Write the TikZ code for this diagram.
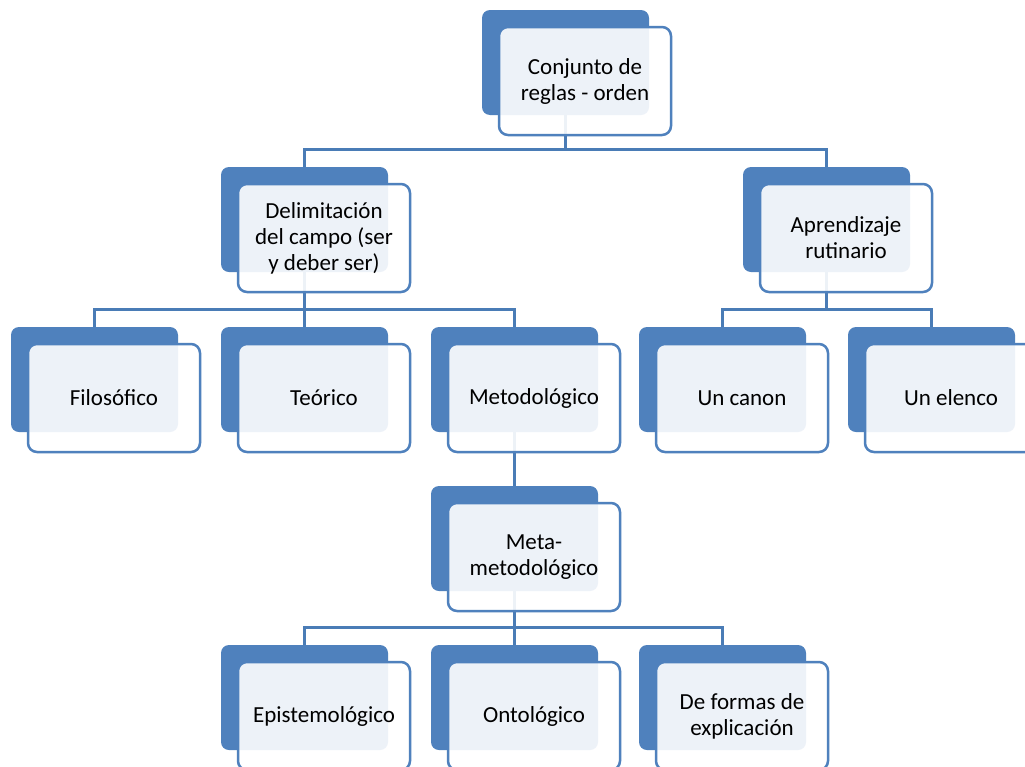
\documentclass[tikz,border=0pt]{standalone}
\usepackage{fontspec}
\setmainfont{Carlito}
\definecolor{boxblue}{HTML}{4F81BD}
\definecolor{connblue}{HTML}{4A7CB6}
\tikzset{
  backbox/.style={fill=boxblue, draw=none, rounded corners=8pt, anchor=north west,
    minimum width=167pt, minimum height=105pt, inner sep=0pt, outer sep=0pt},
  frontbox/.style={fill=white, fill opacity=0.9, text opacity=1, draw=boxblue, line width=2.5pt,
    rounded corners=9pt, anchor=north west, minimum width=172pt, minimum height=108pt,
    inner sep=0pt, outer sep=0pt, align=center,
    font=\fontsize{23pt}{26pt}\selectfont, text=black},
  conn/.style={draw=connblue, line width=3pt}
}
\newcommand{\backat}[3]{\node[backbox] (#1B) at (#2,#3) {};}
\newcommand{\frontat}[4]{\node[frontbox] (#1F) at (#2+17,#3+17) {#4};}
\begin{document}
\begin{tikzpicture}[x=1pt,y=-1pt]
\useasboundingbox (0,0) rectangle (1025,766);
\clip (0,0) rectangle (1025,766);
\fill[white] (0,0) rectangle (1025,766);
% back boxes
\backat{top}{482}{10}
\backat{del}{221}{167}
\backat{apr}{743}{167}
\backat{fil}{11}{327}
\backat{teo}{221}{327}
\backat{met}{431}{327}
\backat{can}{639}{327}
\backat{ele}{848}{327}
\backat{meta}{431}{486}
\backat{epi}{221}{645}
\backat{ont}{431}{645}
\backat{def}{639}{645}
% connectors
\coordinate (b0) at (565.5,149);
\coordinate (b1) at (304.5,309);
\coordinate (b2) at (826.5,309);
\coordinate (b3) at (514.5,627);
\draw[conn] (topB.south) -- (b0);
\draw[conn] (delB.north) |- (aprB.north |- b0) -- (aprB.north);
\draw[conn] (delB.south) -- (b1);
\draw[conn] (filB.north) |- (metB.north |- b1) -- (metB.north);
\draw[conn] (teoB.north) -- (teoB.north |- b1);
\draw[conn] (aprB.south) -- (b2);
\draw[conn] (canB.north) |- (eleB.north |- b2) -- (eleB.north);
\draw[conn] (metB.south) -- (metaB.north);
\draw[conn] (metaB.south) -- (b3);
\draw[conn] (epiB.north) |- (defB.north |- b3) -- (defB.north);
\draw[conn] (ontB.north) -- (ontB.north |- b3);
% front boxes
\frontat{top}{482}{10}{Conjunto de\\reglas - orden}
\frontat{del}{221}{167}{Delimitación\\del campo (ser\\y deber ser)}
\frontat{apr}{743}{167}{Aprendizaje\\rutinario}
\frontat{fil}{11}{327}{Filosófico}
\frontat{teo}{221}{327}{Teórico}
\frontat{met}{431}{327}{Metodológico}
\frontat{can}{639}{327}{Un canon}
\frontat{ele}{848}{327}{Un elenco}
\frontat{meta}{431}{486}{Meta-\\metodológico}
\frontat{epi}{221}{645}{Epistemológico}
\frontat{ont}{431}{645}{Ontológico}
\frontat{def}{639}{645}{De formas de\\explicación}
\end{tikzpicture}
\end{document}
